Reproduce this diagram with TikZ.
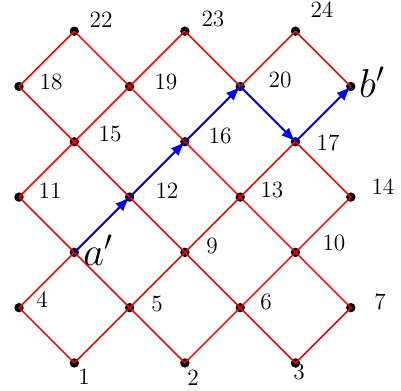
\documentclass[tikz,border=0pt]{standalone}
\usepackage{tikz}
\usetikzlibrary{arrows.meta}

\tikzset{
  dot/.style={circle, fill=black, inner sep=0pt, minimum size=0.17cm},
  lbl/.style={font=\large, inner sep=0pt},
  biglbl/.style={font=\huge, inner sep=0pt},
  redline/.style={red, line width=0.8pt},
  bluearrow/.style={blue, line width=1pt, -{Latex[length=2.6mm, width=2mm]}}
}

\begin{document}
\begin{tikzpicture}
\useasboundingbox (-0.344,-0.506) rectangle (6.908,6.564);
% Lattice points
\node[dot] (p1) at (1,0) {};
\node[dot] (p2) at (3,0) {};
\node[dot] (p3) at (5,0) {};
\node[dot] (p4) at (0,1) {};
\node[dot] (p5) at (2,1) {};
\node[dot] (p6) at (4,1) {};
\node[dot] (p7) at (6,1) {};
\node[dot] (p8) at (1,2) {};
\node[dot] (p9) at (3,2) {};
\node[dot] (p10) at (5,2) {};
\node[dot] (p11) at (0,3) {};
\node[dot] (p12) at (2,3) {};
\node[dot] (p13) at (4,3) {};
\node[dot] (p14) at (6,3) {};
\node[dot] (p15) at (1,4) {};
\node[dot] (p16) at (3,4) {};
\node[dot] (p17) at (5,4) {};
\node[dot] (p18) at (0,5) {};
\node[dot] (p19) at (2,5) {};
\node[dot] (p20) at (4,5) {};
\node[dot] (p21) at (6,5) {};
\node[dot] (p22) at (1,6) {};
\node[dot] (p23) at (3,6) {};
\node[dot] (p24) at (5,6) {};
% Diagonals going up to the right
\draw[redline] (p18.center) -- (p22.center);
\draw[redline] (p11.center) -- (p15.center) -- (p19.center) -- (p23.center);
\draw[redline] (p4.center) -- (p8.center) -- (p12.center) -- (p16.center) -- (p20.center) -- (p24.center);
\draw[redline] (p1.center) -- (p5.center) -- (p9.center) -- (p13.center) -- (p17.center) -- (p21.center);
\draw[redline] (p2.center) -- (p6.center) -- (p10.center) -- (p14.center);
\draw[redline] (p3.center) -- (p7.center);
% Diagonals going up to the left
\draw[redline] (p1.center) -- (p4.center);
\draw[redline] (p2.center) -- (p5.center) -- (p8.center) -- (p11.center);
\draw[redline] (p3.center) -- (p6.center) -- (p9.center) -- (p12.center) -- (p15.center) -- (p18.center);
\draw[redline] (p7.center) -- (p10.center) -- (p13.center) -- (p16.center) -- (p19.center) -- (p22.center);
\draw[redline] (p14.center) -- (p17.center) -- (p20.center) -- (p23.center);
\draw[redline] (p21.center) -- (p24.center);
% Path from a' to b'
\draw[bluearrow] (p8.center) -- (p12.center);
\draw[bluearrow] (p12.center) -- (p16.center);
\draw[bluearrow] (p16.center) -- (p20.center);
\draw[bluearrow] (p20.center) -- (p17.center);
\draw[bluearrow] (p17.center) -- (p21.center);
% Labels
\node[lbl] (l1) at (1.175,-0.253) {1};
\node[lbl] (l2) at (3.146,-0.271) {2};
\node[lbl] (l3) at (5.063,-0.163) {3};
\node[lbl] (l4) at (0.416,1.139) {4};
\node[lbl] (l5) at (2.495,1.067) {5};
\node[lbl] (l6) at (4.467,1.103) {6};
\node[lbl] (l7) at (6.528,1.103) {7};
\node[biglbl] (la) at (1.429,2.043) {$a'$};
\node[lbl] (l9) at (3.490,2.116) {9};
\node[lbl] (l10) at (5.696,2.170) {10};
\node[lbl] (l11) at (0.561,3.110) {11};
\node[lbl] (l12) at (2.676,3.110) {12};
\node[lbl] (l13) at (4.575,3.128) {13};
\node[lbl] (l14) at (6.582,3.183) {14};
\node[lbl] (l15) at (1.646,4.141) {15};
\node[lbl] (l16) at (3.635,4.105) {16};
\node[lbl] (l17) at (5.588,3.978) {17};
\node[lbl] (l18) at (0.579,5.081) {18};
\node[lbl] (l19) at (2.658,5.081) {19};
\node[lbl] (l20) at (4.720,5.118) {20};
\node[biglbl] (lb) at (6.383,5.081) {$b'$};
\node[lbl] (l22) at (1.483,6.203) {22};
\node[lbl] (l23) at (3.508,6.221) {23};
\node[lbl] (l24) at (5.479,6.383) {24};
\end{tikzpicture}
\end{document}
